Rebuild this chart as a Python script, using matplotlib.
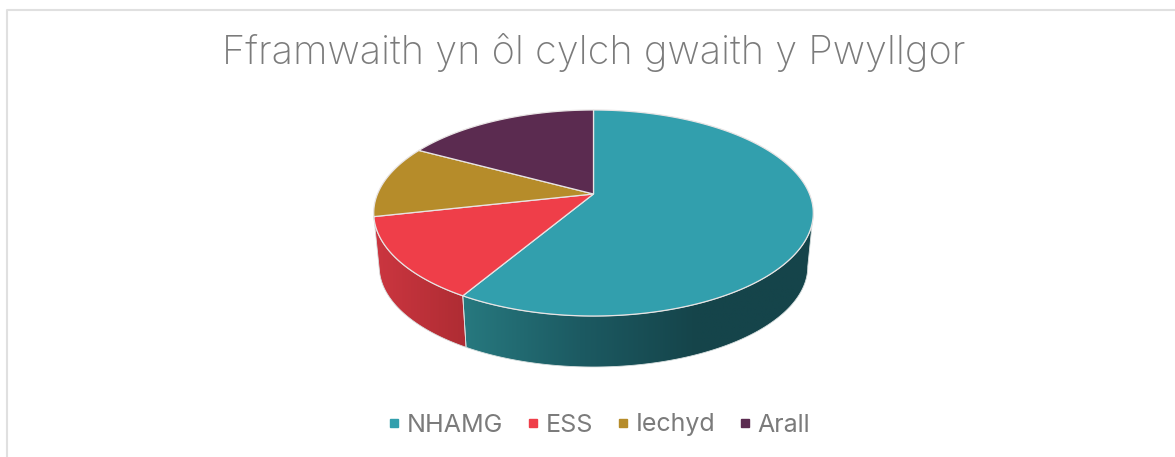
import numpy as np
import matplotlib
matplotlib.use("Agg")
import matplotlib.pyplot as plt
from matplotlib.colors import LinearSegmentedColormap
from matplotlib.lines import Line2D
from matplotlib.patches import Polygon

# data
labels = ["NHAMG", "ESS", "Iechyd", "Arall"]
values = [58.5, 13.0, 11.4, 17.1]
colors = ["#329FAD", "#EF3E49", "#B68C2A", "#5B2B50"]
# wall shading, left to right
wall_colors = {"NHAMG": ["#27797F", "#1C5A62", "#15444A", "#15444A"], "ESS": ["#CC3640", "#AE2C33"]}
title = "Fframwaith yn ôl cylch gwaith y Pwyllgor"

# pie geometry in pixels (perspective disc)
cx, cy = 593.5, 194.0
A, B, k = 216.0, 99.5, 0.1845
shrink, vy = 0.975, 2356.0
front = (100.6, 259.4)


def top_xy(theta):
    # theta is degrees clockwise from 12 o'clock
    t = np.radians(theta)
    x, y = np.sin(t), np.cos(t)
    d = 1 + k * y
    return cx + A * x / d, cy - B * y / d


def bottom_xy(theta):
    x, y = top_xy(theta)
    return cx + (x - cx) * shrink, vy + (y - vy) * shrink


plt.rcParams["font.family"] = ["Inter", "DejaVu Sans"]
fig = plt.figure(figsize=(11.75, 4.57), dpi=100)
ax = fig.add_axes([0, 0, 1, 1])
ax.set_xlim(0, 1175)
ax.set_ylim(457, 0)
ax.axis("off")

# chart frame
ax.plot([6.5, 6.5, 1175], [457, 9.5, 9.5], color="#E0E0E0", lw=1.5)

edges = np.cumsum([0] + values) / sum(values) * 360

# side walls first
for i, name in enumerate(labels):
    a0, a1 = max(edges[i], front[0]), min(edges[i + 1], front[1])
    if a1 <= a0 or name not in wall_colors:
        continue
    th = np.linspace(a0, a1, 200)
    pts = np.vstack([np.column_stack(top_xy(th)), np.column_stack(bottom_xy(th[::-1]))])
    cmap = LinearSegmentedColormap.from_list(name, wall_colors[name])
    x0, x1 = pts[:, 0].min(), pts[:, 0].max()
    y0, y1 = pts[:, 1].min(), pts[:, 1].max()
    im = ax.imshow(np.linspace(0, 1, 256)[None, :], cmap=cmap, extent=[x0, x1, y1, y0], aspect="auto", zorder=2)
    poly = Polygon(pts, closed=True, fc="none", ec="#D8E0E0", lw=0.6, zorder=3)
    ax.add_patch(poly)
    im.set_clip_path(poly)
ax.set_xlim(0, 1175)
ax.set_ylim(457, 0)

# top face
for i, name in enumerate(labels):
    th = np.linspace(edges[i], edges[i + 1], 200)
    x, y = top_xy(th)
    pts = np.vstack([[cx, cy], np.column_stack([x, y])])
    ax.add_patch(Polygon(pts, closed=True, fc=colors[i], ec="#E8E4E4", lw=0.9, zorder=4))

ax.text(593.5, 52, title, ha="center", va="center", fontsize=28.6, color="#7B7B7B", fontweight="light")

handles = [Line2D([], [], ls="none", marker="s", ms=5.8, color=c) for c in colors]
ax.legend(handles, labels, loc="center", bbox_to_anchor=(599 / 1175, 1 - 425 / 457), ncol=4, frameon=False,
          fontsize=18, labelcolor="#7B7B7B", handlelength=0.5, handletextpad=0.27, columnspacing=0.93, borderpad=0)

fig.savefig("out.png", dpi=100)
